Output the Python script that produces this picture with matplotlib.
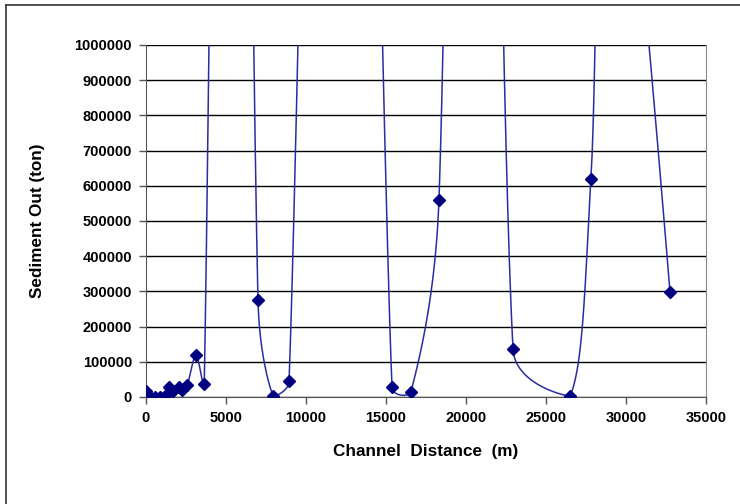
import numpy as np
import matplotlib.pyplot as plt
from matplotlib.lines import Line2D

plt.rcParams['font.family'] = ['Liberation Sans', 'DejaVu Sans']

# channel distance (m) and sediment out (ton); peaks above 1e6 run off the chart
distance = [0, 125, 270, 560, 870, 1190, 1440, 1700, 2080, 2270, 2580, 3125, 3640,
            5300, 7000, 7940, 8940, 12125, 15375, 16560, 18310, 20500, 22940,
            26500, 27810, 29000, 32750]
sediment = [17000, 5000, 1000, 0, 0, 2000, 27000, 18000, 29000, 20000, 33000, 119000, 37000,
            5000000, 275000, 3000, 45000, 5000000, 28000, 14000, 560000, 5000000, 136000,
            3000, 619000, 2000000, 298000]

x_ticks = np.arange(0, 35001, 5000)
y_ticks = np.arange(0, 1000001, 100000)


def smooth_line(pts, floor, n=80):
    # Excel-style smoothing, done in screen space: bezier pieces whose
    # control arms are 1/6 of the neighbour chord, capped at half the segment;
    # arms are shortened so the curve does not drop below the x axis
    p = np.asarray(pts, dtype=float)
    t = np.linspace(0, 1, n)[:, None]

    def arm(base, v, d12):
        f = min(1 / 6, d12 / 2 / max(np.hypot(*v), 1e-9))
        c = base + f * v
        if c[1] < floor and base[1] > c[1]:
            s = max(base[1] - floor, 0) / (base[1] - c[1])
            c = base + s * f * v
        return c

    out = []
    for i in range(len(p) - 1):
        b0, b3 = p[i], p[i + 1]
        d12 = np.hypot(*(b3 - b0))
        b1 = arm(b0, p[i + 1] - p[i - 1], d12) if i > 0 else b0
        b2 = arm(b3, p[i] - p[i + 2], d12) if i + 2 < len(p) else b3
        seg = ((1 - t) ** 3) * b0 + 3 * ((1 - t) ** 2) * t * b1 + 3 * (1 - t) * t ** 2 * b2 + t ** 3 * b3
        out.append(seg)
    return np.vstack(out)


fig = plt.figure(figsize=(7.4, 5.04), dpi=100)
ax = fig.add_axes([146 / 740, 1 - 397 / 504, 560 / 740, 352 / 504])
ax.set_xlim(0, 35000)
ax.set_ylim(0, 1000000)

pix = ax.transData.transform(np.column_stack([distance, sediment]))
floor = ax.transData.transform((0, 0))[1]
curve = ax.transData.inverted().transform(smooth_line(pix, floor))
ax.plot(curve[:, 0], curve[:, 1], color='#2b2ba3', linewidth=1.1, zorder=3)
ax.plot(distance, sediment, linestyle='none', marker='D', markersize=6,
        color='#000080', zorder=4)

ax.set_xticks(x_ticks)
ax.set_yticks(y_ticks)
ax.set_xticklabels([str(v) for v in x_ticks], fontsize=10.5, fontweight='bold')
ax.set_yticklabels([str(v) for v in y_ticks], fontsize=10.5, fontweight='bold')
ax.tick_params(direction='out', length=5, width=1, color='#555555', pad=5)
ax.grid(axis='y', color='black', linewidth=1)
ax.set_axisbelow(True)

for side in ['left', 'bottom']:
    ax.spines[side].set_color('#555555')
ax.spines['right'].set_color('#888888')
ax.spines['top'].set_visible(False)

ax.set_xlabel('Channel  Distance  (m)', fontsize=12.3, fontweight='bold', labelpad=14)
ax.set_ylabel('Sediment Out (ton)', fontsize=12.3, fontweight='bold', labelpad=21)

# outer chart-area border (top and left visible)
fig.add_artist(Line2D([6 / 740, 1], [1 - 5 / 504, 1 - 5 / 504], color='#333333', linewidth=1.2))
fig.add_artist(Line2D([6 / 740, 6 / 740], [0, 1 - 5 / 504], color='#333333', linewidth=1.2))

fig.savefig('out.png', dpi=100)
